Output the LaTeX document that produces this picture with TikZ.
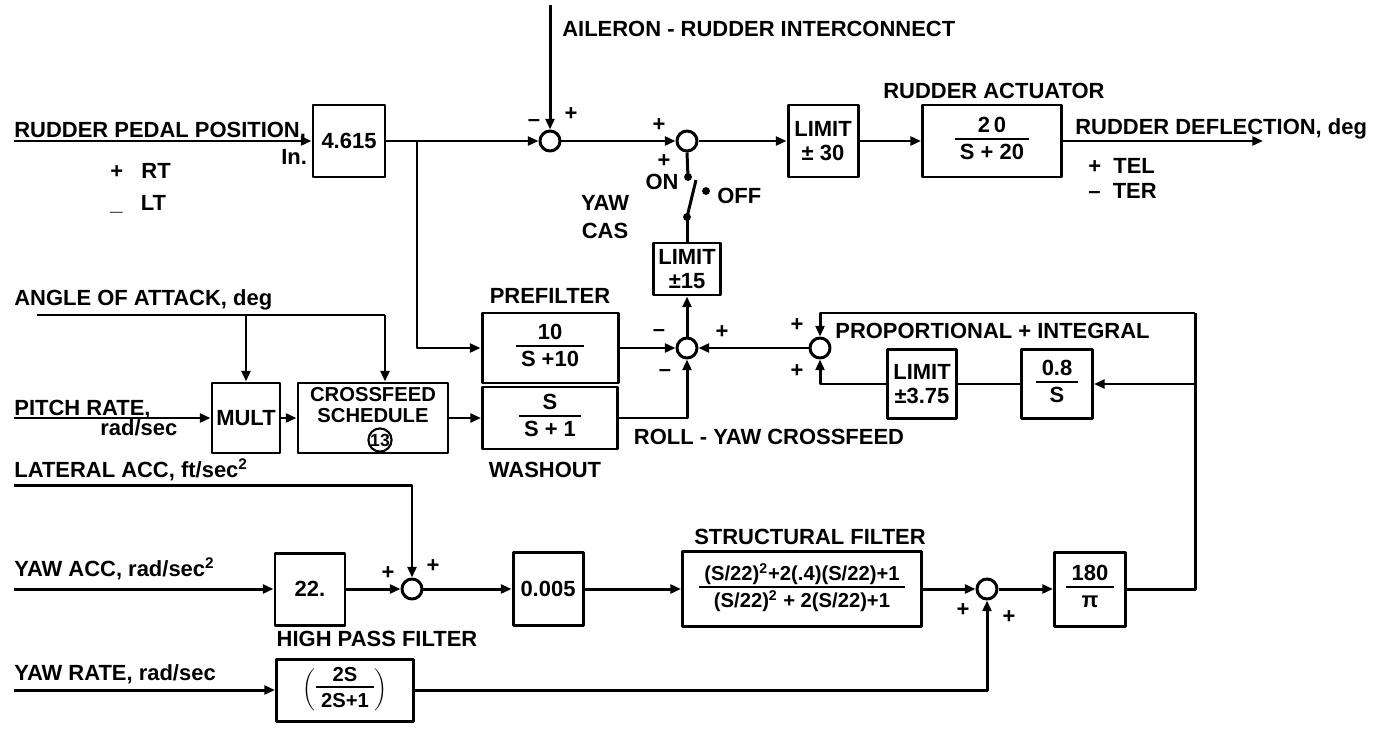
\documentclass[tikz,border=0pt]{standalone}
\usepackage{fontspec}
\setmainfont{Liberation Sans}
\usetikzlibrary{arrows.meta}
\setlength\arrayrulewidth{1.3pt}
\newcommand\frc[2]{\begin{tabular}{@{\hspace{3pt}}c@{\hspace{3pt}}}#1\\[-1pt]\hline\rule{0pt}{11pt}#2\end{tabular}}
\begin{document}
\begin{tikzpicture}[x=0.02cm,y=-0.02cm,
  font=\fontsize{12.5}{14}\selectfont\bfseries,
  line join=round,
  sig/.style={line width=1.7pt},
  arr/.style={sig,-{Triangle[length=6pt,width=5pt]}},
  blk/.style 2 args={draw,line width=1.7pt,minimum width=#1*0.02cm,minimum height=#2*0.02cm,inner sep=1pt,align=center},
  sumj/.style={circle,draw,line width=1.7pt,minimum size=0.4cm,inner sep=0pt},
  lbl/.style={inner sep=0pt,anchor=base west},
  clbl/.style={inner sep=0pt},
  jdot/.style={circle,fill,inner sep=0pt,minimum size=4.5pt}]
\fill[white] (0,0) rectangle (1389,730);
\useasboundingbox (0,0) rectangle (1389,730);

% ---------- top row ----------
\coordinate (inRPP) at (14,141);
\node[lbl] (tRPP) at (14,137) {RUDDER PEDAL POSITION,};
\node[lbl] (tIn) at (281,164) {In.};
\node[lbl] (tRT) at (110,178) {+\ \ \ RT};
\node[lbl] (tLT) at (110,210) {\_\ \ \ LT};
\node[blk={72}{72}] (k4615) at (349,141) {4.615};
\coordinate (br1) at (417,141);
\coordinate (ail) at (550,5);
\node[lbl] (tAil) at (562,36) {AILERON - RUDDER INTERCONNECT};
\node[sumj] (s1) at (550,141) {};
\node[clbl] (m1) at (534,123) {--};
\node[clbl] (p1) at (571,114) {+};
\node[sumj] (s2) at (687,141) {};
\node[clbl] (p2a) at (659,125) {+};
\node[clbl] (p2b) at (664,161) {+};
\node[clbl] (tON) at (662,182) {ON};
\node[jdot] (swt) at (688,177) {};
\node[jdot] (swb) at (687,217) {};
\node[jdot] (swoff) at (706,191) {};
\coordinate (bladeEnd) at (696,180);
\node[lbl] (tOFF) at (717,203) {OFF};
\node[clbl] (tYAW) at (605,203) {YAW};
\node[clbl] (tCAS) at (605,231) {CAS};
\node[blk={70}{72}] (lim30) at (823,141) {LIMIT\\± 30};
\node[lbl] (tRA) at (883,98) {RUDDER ACTUATOR};
\node[blk={139}{72}] (act) at (992,141) {\frc{2\,0}{S + 20}};
\coordinate (outR) at (1263,141);
\node[lbl] (tRD) at (1075,134) {RUDDER DEFLECTION, deg};
\node[lbl] (tTEL) at (1088,173) {+\ \ TEL};
\node[lbl] (tTER) at (1088,198) {--\ \ TER};

% ---------- middle ----------
\node[blk={67}{52}] (lim15) at (687,269) {LIMIT\\±15};
\node[sumj] (s3) at (687,348) {};
\node[blk={136}{70}] (pref) at (550,348) {\frc{10}{S +10}};
\node[clbl] (tPF) at (550,296) {PREFILTER};
\node[blk={135}{62}] (wash) at (550,418) {\frc{S}{S + 1}};
\node[clbl] (tWO) at (545,470) {WASHOUT};
\node[clbl] (m3a) at (659,333) {--};
\node[clbl] (m3b) at (665,373) {--};
\node[clbl] (p3) at (722,332) {+};
\node[clbl] (tRY) at (769,437) {ROLL - YAW CROSSFEED};
\node[sumj] (s4) at (820,348) {};
\node[clbl] (p4a) at (797,325) {+};
\node[clbl] (p4b) at (797,371) {+};
\node[lbl] (tPI) at (835,338) {PROPORTIONAL + INTEGRAL};
\node[blk={69}{69}] (lim375) at (922,384) {LIMIT\\±3.75};
\node[blk={71}{69}] (int08) at (1057,384) {\frc{0.8}{S}};
\coordinate (cT) at (1195,313);
\coordinate (cM) at (1195,384);
\coordinate (cR) at (1195,589);

\node[lbl] (tAoA) at (14,305) {ANGLE OF ATTACK, deg};
\coordinate (aoaS) at (37,315);
\coordinate (aoaB) at (246,315);
\coordinate (aoaE) at (385,315);
\node[blk={68}{70}] (mult) at (246,418) {MULT};
\node[blk={150}{70}] (cf) at (373,418) {};
\node[clbl,align=center,font=\fontsize{11.5}{12}\selectfont\bfseries] (tCF) at (373,405) {CROSSFEED\\SCHEDULE};
\node[circle,draw,line width=1.2pt,inner sep=0pt,minimum size=0.4cm,font=\fontsize{10}{11}\selectfont\bfseries] (tCF3) at (380,440) {13};
\node[lbl] (tPR) at (14,415) {PITCH RATE,};
\node[lbl] (tPRu) at (100,435) {rad/sec};
\coordinate (inPR) at (14,418);
\node[lbl] (tLA) at (14,477) {LATERAL ACC, ft/sec\textsuperscript{2}};
\coordinate (inLA) at (14,485);

% ---------- bottom ----------
\node[lbl] (tYA) at (14,576) {YAW ACC, rad/sec\textsuperscript{2}};
\coordinate (inYA) at (14,589);
\node[blk={70}{72}] (k22) at (310,589) {22.};
\node[sumj] (s5) at (412,589) {};
\node[clbl] (p5a) at (388,573) {+};
\node[clbl] (p5b) at (433,566) {+};
\node[blk={70}{73}] (k005) at (548,589) {0.005};
\node[blk={239}{75},font=\fontsize{11.5}{13}\selectfont\bfseries] (sf) at (802,589) {\frc{(S/22)\textsuperscript{2}+2(.4)(S/22)+1}{(S/22)\textsuperscript{2} + 2(S/22)+1}};
\node[clbl] (tSF) at (810,537) {STRUCTURAL FILTER};
\node[sumj] (s6) at (987,589) {};
\node[clbl] (p6a) at (963,610) {+};
\node[clbl] (p6b) at (1009,617) {+};
\node[blk={71}{74}] (k180) at (1090,589) {\frc{180}{π}};
\node[lbl] (tYR) at (14,680) {YAW RATE, rad/sec};
\coordinate (inYR) at (14,690);
\node[blk={137}{62},inner sep=0pt,font=\fontsize{11.5}{12}\selectfont\bfseries] (hpf) at (345,690) {$\bigg(\vcenter{\hbox{\frc{2S}{2S+1}}}\bigg)$};
\node[clbl] (tHPF) at (377,639) {HIGH PASS FILTER};

% ---------- connectors ----------
\draw[arr] (inRPP) -- (k4615.west);
\draw[arr] (k4615.east) -- (s1.west);
\draw[arr] (ail) -- (s1.north);
\draw[arr] (s1.east) -- (s2.west);
\draw[arr] (s2.east) -- (lim30.west);
\draw[arr] (lim30.east) -- (act.west);
\draw[arr] (act.east) -- (outR);
\draw[arr] (br1) |- (pref.west);
\draw[sig] (s2.south) -- (swt.center);
\draw[sig] (swb.center) -- (bladeEnd);
\draw[sig] (swb.center) -- (lim15.north);
\draw[arr] (s3.north) -- (lim15.south);
\draw[arr] (pref.east) -- (s3.west);
\draw[arr] (wash.east) -| (s3.south);
\draw[arr] (s4.west) -- (s3.east);
\draw[sig] (k180.east) -- (cR) -- (cT);
\draw[arr] (cT) -| (s4.north);
\draw[arr] (cM) -- (int08.east);
\draw[sig] (int08.west) -- (lim375.east);
\draw[arr] (lim375.west) -| (s4.south);
\draw[sig] (aoaS) -- (aoaE);
\draw[arr] (aoaB) -- (mult.north);
\draw[arr] (aoaE) -- (aoaE |- cf.north);
\draw[arr] (inPR) -- (mult.west);
\draw[arr] (mult.east) -- (cf.west);
\draw[arr] (cf.east) -- (wash.west);
\draw[arr] (inLA) -| (s5.north);
\draw[arr] (inYA) -- (k22.west);
\draw[arr] (k22.east) -- (s5.west);
\draw[arr] (s5.east) -- (k005.west);
\draw[arr] (k005.east) -- (sf.west);
\draw[arr] (sf.east) -- (s6.west);
\draw[arr] (s6.east) -- (k180.west);
\draw[arr] (inYR) -- (hpf.west);
\draw[arr] (hpf.east) -| (s6.south);
\end{tikzpicture}
\end{document}
